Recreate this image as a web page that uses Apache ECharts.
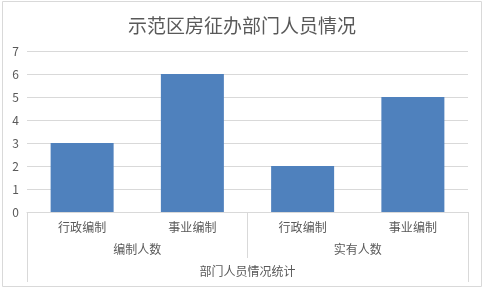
<!DOCTYPE html>
<html><head><meta charset="utf-8">
<script src="https://cdn.jsdelivr.net/npm/echarts@6/dist/echarts.min.js"></script>
<style>html,body{margin:0;padding:0;background:#fff}#c{width:484px;height:289px}</style>
</head><body><div id="c"></div>
<script>
const titleText = "示范区房征办部门人员情况";
const categories = ["行政编制", "事业编制", "行政编制", "事业编制"];
const groups = ["编制人数", "实有人数"];
const topGroup = ["部门人员情况统计"];
const values = [3, 6, 2, 5];
const yTicks = [0, 7, 1]; // min, max, interval

const font = "'Noto Sans CJK SC', 'Microsoft YaHei', sans-serif";
const grey = "#595959";
const lineC = "#d9d9d9";

const chart = echarts.init(document.getElementById('c'), null, {renderer: 'canvas'});
chart.setOption({
  animation: false,
  title: {
    text: titleText, left: 'center', top: 11,
    textStyle: {fontFamily: font, fontSize: 19, fontWeight: 'normal', color: grey}
  },
  graphic: [{
    type: 'rect', shape: {x: 2.5, y: 1.5, width: 479, height: 285},
    style: {fill: 'none', stroke: lineC, lineWidth: 1}, silent: true
  }],
  grid: {left: 27, right: 16, top: 51, bottom: 77},
  xAxis: [{
    type: 'category', data: categories, position: 'bottom',
    axisLine: {show: true, lineStyle: {color: lineC}},
    axisTick: {show: false},
    axisLabel: {margin: 9, color: grey, fontSize: 12, fontFamily: font, interval: 0}
  }, {
    type: 'category', data: groups, position: 'bottom',
    axisLine: {show: false},
    axisTick: {show: true, length: 46, interval: 0, lineStyle: {color: lineC}},
    axisLabel: {margin: 31, color: grey, fontSize: 12, fontFamily: font, interval: 0}
  }, {
    type: 'category', data: topGroup, position: 'bottom',
    axisLine: {show: false},
    axisTick: {show: true, length: 70, interval: 0, lineStyle: {color: lineC}},
    axisLabel: {margin: 53, color: grey, fontSize: 12, fontFamily: font, interval: 0}
  }],
  yAxis: {
    type: 'value', min: yTicks[0], max: yTicks[1], interval: yTicks[2],
    axisLine: {show: false}, axisTick: {show: false},
    splitLine: {lineStyle: {color: lineC}},
    axisLabel: {margin: 8, color: grey, fontSize: 12, fontFamily: font}
  },
  series: [{
    type: 'bar', xAxisIndex: 0, data: values, barWidth: 63,
    itemStyle: {color: '#4F81BD'}
  }]
});
</script></body></html>
